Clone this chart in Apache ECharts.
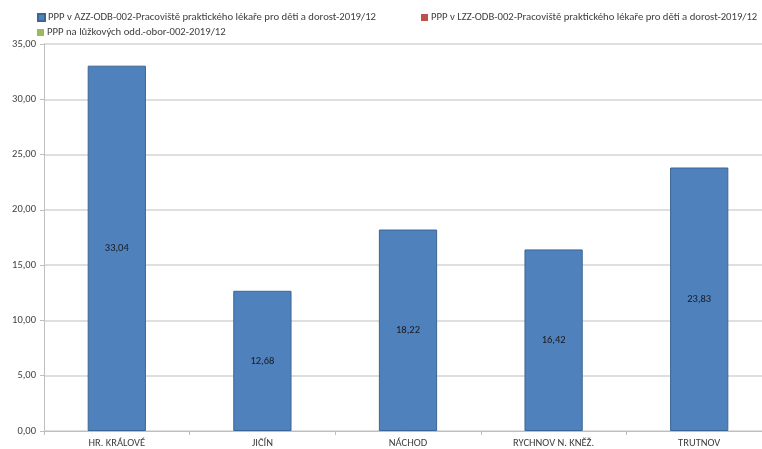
<!DOCTYPE html>
<html>
<head>
<meta charset="utf-8">
<script src="https://cdn.jsdelivr.net/npm/echarts@6/dist/echarts.min.js"></script>
<style>
  html, body { margin: 0; padding: 0; background: #fff; }
  #chart { width: 762px; height: 449px; }
</style>
</head>
<body>
<div id="chart"></div>
<script>
// Districts and the three indicator series (only the AZZ series has values)
const categories = ['HR. KRÁLOVÉ', 'JIČÍN', 'NÁCHOD', 'RYCHNOV N. KNĚŽ.', 'TRUTNOV'];
const seriesNames = [
  'PPP v AZZ-ODB-002-Pracoviště praktického lékaře pro děti a dorost-2019/12',
  'PPP v LZZ-ODB-002-Pracoviště praktického lékaře pro děti a dorost-2019/12',
  'PPP na lůžkových odd.-obor-002-2019/12'
];
const azzValues = [33.04, 12.68, 18.22, 16.42, 23.83];
const lzzValues = [null, null, null, null, null];
const luzkaValues = [null, null, null, null, null];
const seriesColors = ['#4f81bd', '#c0504d', '#9bbb59'];

const FONT = "Carlito, Calibri, 'Liberation Sans Narrow', sans-serif";
const fmt = v => v.toFixed(2).replace('.', ',');

const chart = echarts.init(document.getElementById('chart'), null, { renderer: 'canvas' });

function legendAt(name, left, top) {
  return {
    data: [name],
    left: left, top: top,
    padding: 0,
    itemWidth: 7, itemHeight: 7,
    itemGap: 0,
    icon: 'rect',
    selectedMode: false,
    textStyle: { fontFamily: FONT, fontSize: 10.7, color: '#404040', padding: [0, 0, 0, -2] }
  };
}

chart.setOption({
  animation: false,
  legend: [
    legendAt(seriesNames[0], 37, 12),
    legendAt(seriesNames[1], 421, 12),
    legendAt(seriesNames[2], 37, 27)
  ],
  // the plot runs slightly past the right edge of the canvas
  grid: { left: 44, top: 44, width: 728, height: 387, outerBoundsMode: 'none', containLabel: false },
  xAxis: {
    type: 'category',
    data: categories,
    axisLine: { lineStyle: { color: '#bfbfbf', width: 1 } },
    axisTick: { show: true, length: 4, lineStyle: { color: '#bfbfbf' } },
    axisLabel: { fontFamily: FONT, fontSize: 10.5, color: '#404040', margin: 7 }
  },
  yAxis: {
    type: 'value',
    min: 0, max: 35, interval: 5,
    axisLine: { show: true, lineStyle: { color: '#bfbfbf', width: 1 } },
    axisTick: { show: true, length: 4, lineStyle: { color: '#bfbfbf' } },
    splitLine: { lineStyle: { color: '#d4d4d4', width: 1.5 } },
    axisLabel: { fontFamily: FONT, fontSize: 10.5, color: '#404040', margin: 8, formatter: v => fmt(v) }
  },
  series: [
    {
      name: seriesNames[0], type: 'bar', stack: 'all', data: azzValues,
      barWidth: '40%',
      itemStyle: { color: seriesColors[0], borderColor: '#3b6595', borderWidth: 1 },
      label: {
        show: true, position: 'inside',
        fontFamily: FONT, fontSize: 10.5, color: '#1a1a1a',
        formatter: p => fmt(p.value)
      }
    },
    { name: seriesNames[1], type: 'bar', stack: 'all', data: lzzValues, itemStyle: { color: seriesColors[1] } },
    { name: seriesNames[2], type: 'bar', stack: 'all', data: luzkaValues, itemStyle: { color: seriesColors[2] } }
  ]
});
</script>
</body>
</html>
